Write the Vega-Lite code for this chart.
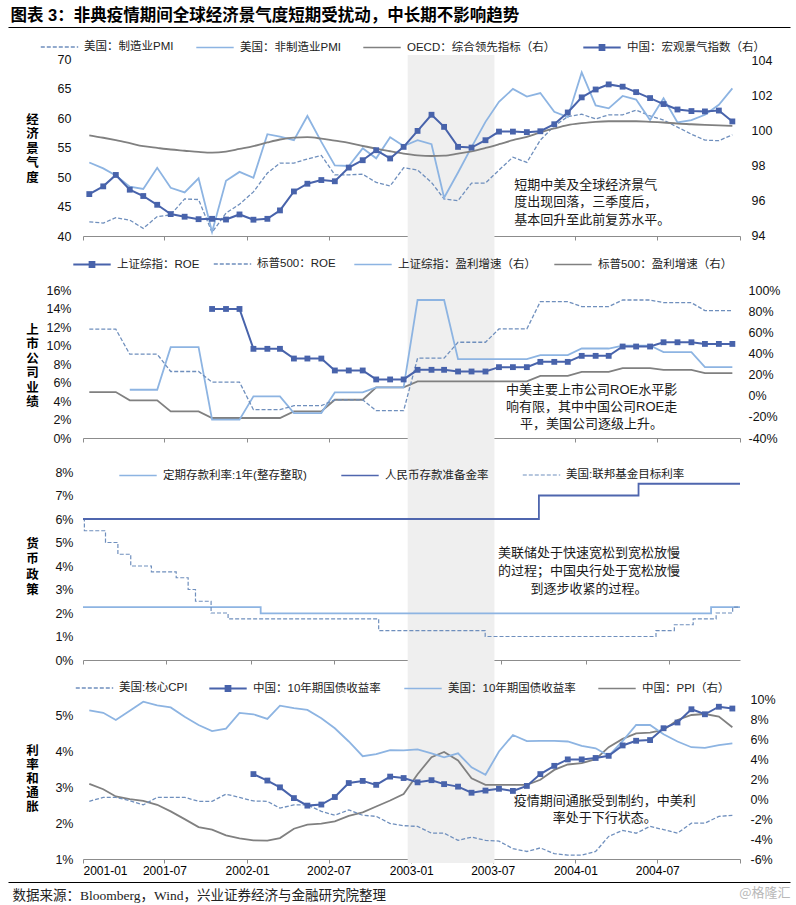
{
  "$schema": "https://vega.github.io/schema/vega-lite/v6.json",
  "width": 657,
  "height": 905,
  "autosize": "none",
  "padding": {"left": 83, "right": 56, "top": 0, "bottom": 0},
  "background": "white",
  "config": {
    "view": {"stroke": null},
    "font": "Liberation Sans, Noto Sans CJK SC",
    "axis": {"labelFont": "Liberation Sans, Noto Sans CJK SC", "labelFontSize": 12.5, "labelColor": "#111", "domainColor": "#8c8c8c", "tickColor": "#8c8c8c", "grid": false},
    "legend": {"symbolSize": 1400, "symbolStrokeWidth": 1.6, "labelFont": "Liberation Sans, Noto Sans CJK SC", "labelFontSize": 11.5, "labelColor": "#222", "labelOffset": 5, "padding": 0, "labelLimit": 400}
  },
  "datasets": {
    "p1": [
      {"d":"2001-01-15","pm":42.4,"pn":52.5,"oe":99.71,"cn":96.36},
      {"d":"2001-02-15","pm":42.2,"pn":51.5,"oe":99.57,"cn":96.8},
      {"d":"2001-03-15","pm":43.1,"pn":50.3,"oe":99.43,"cn":97.45},
      {"d":"2001-04-15","pm":42.7,"pn":48.4,"oe":99.26,"cn":96.61},
      {"d":"2001-05-15","pm":41.3,"pn":48.0,"oe":99.09,"cn":96.25},
      {"d":"2001-06-15","pm":43.3,"pn":51.6,"oe":98.99,"cn":95.75},
      {"d":"2001-07-15","pm":43.6,"pn":48.2,"oe":98.9,"cn":95.22},
      {"d":"2001-08-15","pm":46.3,"pn":47.4,"oe":98.83,"cn":95.07},
      {"d":"2001-09-15","pm":46.2,"pn":49.8,"oe":98.76,"cn":94.93},
      {"d":"2001-10-15","pm":40.6,"pn":40.7,"oe":98.72,"cn":94.95},
      {"d":"2001-11-15","pm":43.9,"pn":49.4,"oe":98.78,"cn":94.91},
      {"d":"2001-12-15","pm":45.4,"pn":50.9,"oe":98.93,"cn":95.2},
      {"d":"2002-01-15","pm":47.5,"pn":49.9,"oe":99.09,"cn":94.9},
      {"d":"2002-02-15","pm":50.7,"pn":57.3,"oe":99.3,"cn":94.95},
      {"d":"2002-03-15","pm":52.4,"pn":56.9,"oe":99.47,"cn":95.43},
      {"d":"2002-04-15","pm":52.4,"pn":56.3,"oe":99.58,"cn":96.51},
      {"d":"2002-05-15","pm":53.1,"pn":60.4,"oe":99.6,"cn":96.95},
      {"d":"2002-06-15","pm":53.7,"pn":56.0,"oe":99.52,"cn":97.16},
      {"d":"2002-07-15","pm":50.4,"pn":52.0,"oe":99.4,"cn":97.09},
      {"d":"2002-08-15","pm":50.4,"pn":51.9,"oe":99.28,"cn":97.87},
      {"d":"2002-09-15","pm":50.5,"pn":54.9,"oe":99.1,"cn":98.29},
      {"d":"2002-10-15","pm":49.1,"pn":53.2,"oe":98.95,"cn":98.86},
      {"d":"2002-11-15","pm":48.5,"pn":56.8,"oe":98.8,"cn":98.39},
      {"d":"2002-12-15","pm":51.6,"pn":55.3,"oe":98.67,"cn":99.05},
      {"d":"2003-01-15","pm":51.2,"pn":56.3,"oe":98.57,"cn":99.96},
      {"d":"2003-02-15","pm":49.1,"pn":55.6,"oe":98.53,"cn":100.88},
      {"d":"2003-03-15","pm":46.3,"pn":46.5,"oe":98.55,"cn":100.19},
      {"d":"2003-04-15","pm":46.0,"pn":50.8,"oe":98.67,"cn":99.05},
      {"d":"2003-05-15","pm":49.0,"pn":55.1,"oe":98.8,"cn":99.01},
      {"d":"2003-06-15","pm":49.0,"pn":59.4,"oe":98.99,"cn":99.43},
      {"d":"2003-07-15","pm":51.2,"pn":62.8,"oe":99.2,"cn":99.92},
      {"d":"2003-08-15","pm":53.4,"pn":65.0,"oe":99.43,"cn":99.92},
      {"d":"2003-09-15","pm":52.5,"pn":63.7,"oe":99.62,"cn":99.89},
      {"d":"2003-10-15","pm":56.3,"pn":64.3,"oe":99.87,"cn":99.94},
      {"d":"2003-11-15","pm":58.7,"pn":61.1,"oe":100.1,"cn":100.34},
      {"d":"2003-12-15","pm":60.3,"pn":60.2,"oe":100.29,"cn":101.01},
      {"d":"2004-01-15","pm":60.7,"pn":67.8,"oe":100.4,"cn":101.87},
      {"d":"2004-02-15","pm":59.9,"pn":62.2,"oe":100.48,"cn":102.32},
      {"d":"2004-03-15","pm":60.6,"pn":61.7,"oe":100.51,"cn":102.61},
      {"d":"2004-04-15","pm":60.6,"pn":63.8,"oe":100.51,"cn":102.48},
      {"d":"2004-05-15","pm":61.4,"pn":63.2,"oe":100.51,"cn":102.17},
      {"d":"2004-06-15","pm":60.4,"pn":59.7,"oe":100.48,"cn":101.83},
      {"d":"2004-07-15","pm":59.7,"pn":63.4,"oe":100.44,"cn":101.49},
      {"d":"2004-08-15","pm":58.5,"pn":59.3,"oe":100.38,"cn":101.18},
      {"d":"2004-09-15","pm":57.3,"pn":59.7,"oe":100.34,"cn":101.09},
      {"d":"2004-10-15","pm":56.3,"pn":60.6,"oe":100.3,"cn":101.07},
      {"d":"2004-11-15","pm":56.2,"pn":62.3,"oe":100.27,"cn":101.12},
      {"d":"2004-12-15","pm":57.2,"pn":65.1,"oe":100.25,"cn":100.5}
    ],
    "p2": [
      {"d":"2001-01-15","r1":null,"r2":11.76,"g1":null,"g2":3.43},
      {"d":"2001-02-15","r1":null,"r2":11.76,"g1":null,"g2":3.43},
      {"d":"2001-03-15","r1":null,"r2":11.76,"g1":null,"g2":3.43},
      {"d":"2001-04-15","r1":null,"r2":9.06,"g1":5.63,"g2":-4.43},
      {"d":"2001-05-15","r1":null,"r2":9.06,"g1":5.63,"g2":-4.43},
      {"d":"2001-06-15","r1":null,"r2":9.06,"g1":5.63,"g2":-4.43},
      {"d":"2001-07-15","r1":null,"r2":7.19,"g1":45.9,"g2":-14.8},
      {"d":"2001-08-15","r1":null,"r2":7.19,"g1":45.9,"g2":-14.8},
      {"d":"2001-09-15","r1":null,"r2":7.19,"g1":45.9,"g2":-14.8},
      {"d":"2001-10-15","r1":13.95,"r2":6.04,"g1":-22.7,"g2":-21.1},
      {"d":"2001-11-15","r1":13.95,"r2":6.04,"g1":-22.7,"g2":-21.1},
      {"d":"2001-12-15","r1":13.95,"r2":6.04,"g1":-22.7,"g2":-21.1},
      {"d":"2002-01-15","r1":9.64,"r2":3.06,"g1":-0.66,"g2":-21.1},
      {"d":"2002-02-15","r1":9.64,"r2":3.06,"g1":-0.66,"g2":-21.1},
      {"d":"2002-03-15","r1":9.64,"r2":3.06,"g1":-0.66,"g2":-21.1},
      {"d":"2002-04-15","r1":8.59,"r2":3.49,"g1":-16.4,"g2":-14.8},
      {"d":"2002-05-15","r1":8.59,"r2":3.49,"g1":-16.4,"g2":-14.8},
      {"d":"2002-06-15","r1":8.59,"r2":3.49,"g1":-16.4,"g2":-14.8},
      {"d":"2002-07-15","r1":7.3,"r2":4.13,"g1":3.11,"g2":-3.8},
      {"d":"2002-08-15","r1":7.3,"r2":4.13,"g1":3.11,"g2":-3.8},
      {"d":"2002-09-15","r1":7.3,"r2":4.13,"g1":3.11,"g2":-3.8},
      {"d":"2002-10-15","r1":6.33,"r2":2.95,"g1":7.83,"g2":7.83},
      {"d":"2002-11-15","r1":6.33,"r2":2.95,"g1":7.83,"g2":7.83},
      {"d":"2002-12-15","r1":6.33,"r2":2.95,"g1":7.83,"g2":7.83},
      {"d":"2003-01-15","r1":7.37,"r2":8.63,"g1":90.56,"g2":13.5},
      {"d":"2003-02-15","r1":7.37,"r2":8.63,"g1":90.56,"g2":13.5},
      {"d":"2003-03-15","r1":7.37,"r2":8.63,"g1":90.56,"g2":13.5},
      {"d":"2003-04-15","r1":7.19,"r2":10.35,"g1":34.6,"g2":13.5},
      {"d":"2003-05-15","r1":7.19,"r2":10.35,"g1":34.6,"g2":13.5},
      {"d":"2003-06-15","r1":7.19,"r2":10.35,"g1":34.6,"g2":13.5},
      {"d":"2003-07-15","r1":7.66,"r2":11.79,"g1":34.6,"g2":13.5},
      {"d":"2003-08-15","r1":7.66,"r2":11.79,"g1":34.6,"g2":13.5},
      {"d":"2003-09-15","r1":7.66,"r2":11.79,"g1":34.6,"g2":13.5},
      {"d":"2003-10-15","r1":8.23,"r2":14.74,"g1":38.35,"g2":18.84},
      {"d":"2003-11-15","r1":8.23,"r2":14.74,"g1":38.35,"g2":18.84},
      {"d":"2003-12-15","r1":8.23,"r2":14.74,"g1":38.35,"g2":18.84},
      {"d":"2004-01-15","r1":8.88,"r2":14.2,"g1":44.64,"g2":22.6},
      {"d":"2004-02-15","r1":8.88,"r2":14.2,"g1":44.64,"g2":22.6},
      {"d":"2004-03-15","r1":8.88,"r2":14.2,"g1":44.64,"g2":22.6},
      {"d":"2004-04-15","r1":9.89,"r2":14.92,"g1":47.47,"g2":26.1},
      {"d":"2004-05-15","r1":9.89,"r2":14.92,"g1":47.47,"g2":26.1},
      {"d":"2004-06-15","r1":9.89,"r2":14.92,"g1":47.47,"g2":26.1},
      {"d":"2004-07-15","r1":10.35,"r2":14.63,"g1":41.18,"g2":24.5},
      {"d":"2004-08-15","r1":10.35,"r2":14.63,"g1":41.18,"g2":24.5},
      {"d":"2004-09-15","r1":10.35,"r2":14.63,"g1":41.18,"g2":24.5},
      {"d":"2004-10-15","r1":10.17,"r2":13.77,"g1":27.0,"g2":21.4},
      {"d":"2004-11-15","r1":10.17,"r2":13.77,"g1":27.0,"g2":21.4},
      {"d":"2004-12-15","r1":10.17,"r2":13.77,"g1":27.0,"g2":21.4}
    ],
    "dep": [
      {"d":"2001-01-01","v":2.25},{"d":"2002-01-23","v":1.98},{"d":"2004-09-30","v":2.25},{"d":"2004-12-02","v":2.25}
    ],
    "rrr": [
      {"d":"2001-01-01","v":6.0},{"d":"2003-09-21","v":7.0},{"d":"2004-04-25","v":7.5},{"d":"2004-12-02","v":7.5}
    ],
    "fed": [
      {"d":"2001-01-01","v":6.0},{"d":"2001-01-04","v":5.5},{"d":"2001-02-19","v":5.0},{"d":"2001-03-18","v":4.5},
      {"d":"2001-04-15","v":4.0},{"d":"2001-05-30","v":3.75},{"d":"2001-07-23","v":3.5},{"d":"2001-08-18","v":3.0},
      {"d":"2001-09-03","v":2.5},{"d":"2001-10-07","v":2.0},{"d":"2001-11-13","v":1.75},{"d":"2002-10-07","v":1.25},
      {"d":"2003-05-27","v":1.0},{"d":"2004-06-02","v":1.25},{"d":"2004-07-12","v":1.5},{"d":"2004-08-22","v":1.75},
      {"d":"2004-10-11","v":2.0},{"d":"2004-11-16","v":2.25},{"d":"2004-12-02","v":2.25}
    ],
    "p4": [
      {"d":"2001-01-15","cpi":2.61,"cn":null,"us":5.15,"ppi":1.52},
      {"d":"2001-02-15","cpi":2.72,"cn":null,"us":5.08,"ppi":0.98},
      {"d":"2001-03-15","cpi":2.72,"cn":null,"us":4.88,"ppi":0.25},
      {"d":"2001-04-15","cpi":2.63,"cn":null,"us":5.14,"ppi":-0.01},
      {"d":"2001-05-15","cpi":2.51,"cn":null,"us":5.39,"ppi":-0.18},
      {"d":"2001-06-15","cpi":2.72,"cn":null,"us":5.29,"ppi":-0.58},
      {"d":"2001-07-15","cpi":2.72,"cn":null,"us":5.23,"ppi":-1.24},
      {"d":"2001-08-15","cpi":2.72,"cn":null,"us":4.97,"ppi":-2.01},
      {"d":"2001-09-15","cpi":2.61,"cn":null,"us":4.74,"ppi":-2.81},
      {"d":"2001-10-15","cpi":2.61,"cn":null,"us":4.57,"ppi":-3.07},
      {"d":"2001-11-15","cpi":2.81,"cn":null,"us":4.64,"ppi":-3.64},
      {"d":"2001-12-15","cpi":2.72,"cn":null,"us":5.08,"ppi":-3.94},
      {"d":"2002-01-15","cpi":2.62,"cn":3.37,"us":5.04,"ppi":-4.14},
      {"d":"2002-02-15","cpi":2.61,"cn":3.19,"us":4.91,"ppi":-4.17},
      {"d":"2002-03-15","cpi":2.42,"cn":3.0,"us":5.28,"ppi":-3.91},
      {"d":"2002-04-15","cpi":2.51,"cn":2.7,"us":5.21,"ppi":-2.97},
      {"d":"2002-05-15","cpi":2.51,"cn":2.49,"us":5.16,"ppi":-2.57},
      {"d":"2002-06-15","cpi":2.33,"cn":2.52,"us":4.93,"ppi":-2.47},
      {"d":"2002-07-15","cpi":2.22,"cn":2.73,"us":4.65,"ppi":-2.24},
      {"d":"2002-08-15","cpi":2.37,"cn":3.12,"us":4.28,"ppi":-1.68},
      {"d":"2002-09-15","cpi":2.22,"cn":3.18,"us":3.87,"ppi":-1.34},
      {"d":"2002-10-15","cpi":2.19,"cn":3.07,"us":3.93,"ppi":-0.75},
      {"d":"2002-11-15","cpi":1.99,"cn":3.3,"us":4.04,"ppi":-0.15},
      {"d":"2002-12-15","cpi":1.93,"cn":3.26,"us":4.03,"ppi":0.49},
      {"d":"2003-01-15","cpi":1.91,"cn":3.14,"us":4.06,"ppi":2.48},
      {"d":"2003-02-15","cpi":1.72,"cn":3.2,"us":3.95,"ppi":4.18},
      {"d":"2003-03-15","cpi":1.72,"cn":3.09,"us":3.84,"ppi":4.71},
      {"d":"2003-04-15","cpi":1.52,"cn":3.02,"us":3.95,"ppi":3.85},
      {"d":"2003-05-15","cpi":1.61,"cn":2.85,"us":3.56,"ppi":2.08},
      {"d":"2003-06-15","cpi":1.52,"cn":2.91,"us":3.35,"ppi":1.42},
      {"d":"2003-07-15","cpi":1.5,"cn":2.96,"us":4.0,"ppi":1.42},
      {"d":"2003-08-15","cpi":1.29,"cn":2.9,"us":4.46,"ppi":1.42},
      {"d":"2003-09-15","cpi":1.21,"cn":3.04,"us":4.29,"ppi":1.42},
      {"d":"2003-10-15","cpi":1.31,"cn":3.37,"us":4.3,"ppi":1.92},
      {"d":"2003-11-15","cpi":1.15,"cn":3.6,"us":4.3,"ppi":2.91},
      {"d":"2003-12-15","cpi":1.11,"cn":3.78,"us":4.28,"ppi":3.45},
      {"d":"2004-01-15","cpi":1.11,"cn":3.78,"us":4.16,"ppi":3.58},
      {"d":"2004-02-15","cpi":1.21,"cn":3.82,"us":4.09,"ppi":3.98},
      {"d":"2004-03-15","cpi":1.63,"cn":3.88,"us":3.88,"ppi":5.18},
      {"d":"2004-04-15","cpi":1.8,"cn":4.17,"us":4.29,"ppi":6.01},
      {"d":"2004-05-15","cpi":1.72,"cn":4.3,"us":4.74,"ppi":6.57},
      {"d":"2004-06-15","cpi":1.91,"cn":4.32,"us":4.74,"ppi":6.64},
      {"d":"2004-07-15","cpi":1.82,"cn":4.65,"us":4.48,"ppi":6.91},
      {"d":"2004-08-15","cpi":1.72,"cn":4.81,"us":4.28,"ppi":7.9},
      {"d":"2004-09-15","cpi":2.0,"cn":5.18,"us":4.12,"ppi":8.4},
      {"d":"2004-10-15","cpi":2.0,"cn":5.04,"us":4.1,"ppi":8.5},
      {"d":"2004-11-15","cpi":2.19,"cn":5.25,"us":4.18,"ppi":8.24},
      {"d":"2004-12-15","cpi":2.22,"cn":5.2,"us":4.23,"ppi":7.17}
    ]
  },
  "layer": [
    {
      "data": {"values": [{}]},
      "mark": {"type": "point", "opacity": 0},
      "encoding": {
        "x": {"datum": 0, "type": "quantitative", "scale": {"domain": [0, 1], "range": [-75, 707]},
          "axis": {"orient": "top", "offset": -27, "domain": true, "domainColor": "#000", "domainWidth": 1.2, "ticks": false, "labels": false, "grid": false,
            "title": "图表 3：非典疫情期间全球经济景气度短期受扰动，中长期不影响趋势", "titleX": -73, "titleY": -12, "titleAlign": "left", "titleBaseline": "middle",
            "titleFont": "Liberation Sans, Noto Sans CJK SC", "titleFontSize": 16.5, "titleFontWeight": "bold", "titleColor": "#000"}}
      }
    },
    {
      "data": {"values": [{}]},
      "mark": {"type": "point", "opacity": 0},
      "encoding": {
        "x": {"datum": 0, "type": "quantitative", "scale": {"domain": [0, 1], "range": [-75, 707]},
          "axis": {"orient": "bottom", "offset": -23, "domain": true, "domainColor": "#000", "domainWidth": 1.2, "ticks": false, "labels": false, "grid": false,
            "title": "数据来源：Bloomberg，Wind，兴业证券经济与金融研究院整理", "titleX": -71, "titleY": 13, "titleAlign": "left", "titleBaseline": "middle",
            "titleFont": "Liberation Serif, Noto Sans CJK SC", "titleFontSize": 13.5, "titleFontWeight": "normal", "titleColor": "#222"}}
      }
    },
    {
      "data": {"values": [{"a": "2002-12-24", "b": "2003-07-05"}]},
      "mark": {"type": "rect", "color": "#efefef"},
      "encoding": {
        "x": {"field": "a", "type": "temporal", "scale": {"type": "utc", "domain": [{"year": 2001, "month": 1, "date": 1, "utc": true}, {"year": 2005, "month": 1, "date": 1, "utc": true}]}, "axis": null},
        "x2": {"field": "b"},
        "y": {"datum": 0, "type": "quantitative", "scale": {"domain": [0, 1], "range": [863, 55]}, "axis": null},
        "y2": {"datum": 1}
      }
    },
    {
      "data": {"name": "p1"},
      "mark": {"type": "line", "strokeWidth": 1.3, "strokeDash": [4, 2]},
      "encoding": {
        "x": {"field": "d", "type": "temporal", "scale": {"type": "utc", "domain": [{"year": 2001, "month": 1, "date": 1, "utc": true}, {"year": 2005, "month": 1, "date": 1, "utc": true}]},
          "axis": {"orient": "bottom", "offset": -669, "labels": false, "ticks": true, "tickSize": 4, "domain": true, "title": null,
            "values": [{"year": 2001, "month": 1, "date": 1, "utc": true}, {"year": 2001, "month": 7, "date": 1, "utc": true}, {"year": 2002, "month": 1, "date": 1, "utc": true}, {"year": 2002, "month": 7, "date": 1, "utc": true}, {"year": 2003, "month": 1, "date": 1, "utc": true}, {"year": 2003, "month": 7, "date": 1, "utc": true}, {"year": 2004, "month": 1, "date": 1, "utc": true}, {"year": 2004, "month": 7, "date": 1, "utc": true}, {"year": 2005, "month": 1, "date": 1, "utc": true}]}},
        "y": {"field": "pm", "type": "quantitative", "scale": {"domain": [40, 70], "range": [236, 59.5], "zero": false, "nice": false},
          "axis": {"orient": "left", "values": [40, 45, 50, 55, 60, 65, 70], "domain": false, "ticks": false, "labelPadding": 12,
            "title": ["经", "济", "景", "气", "度"], "titleAngle": 0, "titleX": -51, "titleY": 119, "titleAlign": "center", "titleBaseline": "middle",
            "titleFont": "Noto Sans CJK SC", "titleFontSize": 12.5, "titleFontWeight": "bold", "titleLineHeight": 14.5, "titleColor": "#000"}},
        "color": {"datum": "美国：制造业PMI", "type": "nominal", "scale": {"range": ["#6f8fbd"]},
          "legend": {"orient": "none", "legendX": -43, "legendY": 27.5, "title": null, "symbolType": "stroke", "symbolDash": [4, 2], "symbolStrokeWidth": 1.3}}
      }
    },
    {
      "data": {"name": "p1"},
      "mark": {"type": "line", "strokeWidth": 1.8},
      "encoding": {
        "x": {"field": "d", "type": "temporal", "scale": {"type": "utc", "domain": [{"year": 2001, "month": 1, "date": 1, "utc": true}, {"year": 2005, "month": 1, "date": 1, "utc": true}]}, "axis": null},
        "y": {"field": "pn", "type": "quantitative", "scale": {"domain": [40, 70], "range": [236, 59.5], "zero": false, "nice": false}, "axis": null},
        "color": {"datum": "美国：非制造业PMI", "type": "nominal", "scale": {"range": ["#8db4e2"]},
          "legend": {"orient": "none", "legendX": 112, "legendY": 27.5, "title": null, "symbolType": "stroke"}}
      }
    },
    {
      "data": {"name": "p1"},
      "mark": {"type": "line", "strokeWidth": 1.8, "interpolate": "monotone"},
      "encoding": {
        "x": {"field": "d", "type": "temporal", "scale": {"type": "utc", "domain": [{"year": 2001, "month": 1, "date": 1, "utc": true}, {"year": 2005, "month": 1, "date": 1, "utc": true}]}, "axis": null},
        "y": {"field": "oe", "type": "quantitative", "scale": {"domain": [94, 104], "range": [235.5, 60], "zero": false, "nice": false},
          "axis": {"orient": "right", "values": [94, 96, 98, 100, 102, 104], "domain": false, "ticks": false, "labelPadding": 11, "title": null}},
        "color": {"datum": "OECD：综合领先指标（右）", "type": "nominal", "scale": {"range": ["#808080"]},
          "legend": {"orient": "none", "legendX": 279, "legendY": 27.5, "title": null, "symbolType": "stroke"}}
      }
    },
    {
      "data": {"name": "p1"},
      "mark": {"type": "line", "strokeWidth": 2, "point": {"shape": "square", "size": 34, "filled": true}},
      "encoding": {
        "x": {"field": "d", "type": "temporal", "scale": {"type": "utc", "domain": [{"year": 2001, "month": 1, "date": 1, "utc": true}, {"year": 2005, "month": 1, "date": 1, "utc": true}]}, "axis": null},
        "y": {"field": "cn", "type": "quantitative", "scale": {"domain": [94, 104], "range": [235.5, 60], "zero": false, "nice": false}, "axis": null},
        "color": {"datum": "中国：宏观景气指数（右）", "type": "nominal", "scale": {"range": ["#4863ab"]},
          "legend": {"orient": "none", "legendX": 499, "legendY": 27.5, "title": null, "symbolStrokeWidth": 2,
            "symbolType": "M-1,0H1M-0.18,-0.13H0.18M-0.18,-0.045H0.18M-0.18,0.045H0.18M-0.18,0.13H0.18"}}
      }
    },
    {
      "data": {"values": [{}]},
      "mark": {"type": "text", "align": "left", "baseline": "top", "lineBreak": "\n", "fontSize": 13, "lineHeight": 17.5, "font": "Noto Sans CJK SC", "color": "#1a1a1a"},
      "encoding": {
        "x": {"datum": {"year": 2003, "month": 8, "date": 18, "utc": true}, "type": "temporal", "scale": {"type": "utc", "domain": [{"year": 2001, "month": 1, "date": 1, "utc": true}, {"year": 2005, "month": 1, "date": 1, "utc": true}]}, "axis": null},
        "y": {"datum": 49.77, "type": "quantitative", "scale": {"domain": [40, 70], "range": [236, 59.5], "zero": false, "nice": false}, "axis": null},
        "text": {"value": "短期中美及全球经济景气\n度出现回落，三季度后，\n基本回升至此前复苏水平。"}
      }
    },
    {
      "data": {"name": "p2"},
      "mark": {"type": "line", "strokeWidth": 1.8},
      "encoding": {
        "x": {"field": "d", "type": "temporal", "scale": {"type": "utc", "domain": [{"year": 2001, "month": 1, "date": 1, "utc": true}, {"year": 2005, "month": 1, "date": 1, "utc": true}]},
          "axis": {"orient": "bottom", "offset": -467, "labels": false, "ticks": true, "tickSize": 4, "domain": true, "title": null,
            "values": [{"year": 2001, "month": 1, "date": 1, "utc": true}, {"year": 2001, "month": 7, "date": 1, "utc": true}, {"year": 2002, "month": 1, "date": 1, "utc": true}, {"year": 2002, "month": 7, "date": 1, "utc": true}, {"year": 2003, "month": 1, "date": 1, "utc": true}, {"year": 2003, "month": 7, "date": 1, "utc": true}, {"year": 2004, "month": 1, "date": 1, "utc": true}, {"year": 2004, "month": 7, "date": 1, "utc": true}, {"year": 2005, "month": 1, "date": 1, "utc": true}]}},
        "y": {"field": "g2", "type": "quantitative", "scale": {"domain": [-40, 100], "range": [438, 290], "zero": false, "nice": false},
          "axis": {"orient": "right", "values": [-40, -20, 0, 20, 40, 60, 80, 100], "labelExpr": "datum.value + '%'", "domain": false, "ticks": false, "labelPadding": 8, "title": null}},
        "color": {"datum": "标普500：盈利增速（右）", "type": "nominal", "scale": {"range": ["#808080"]},
          "legend": {"orient": "none", "legendX": 470, "legendY": 244.5, "title": null, "symbolType": "stroke"}}
      }
    },
    {
      "data": {"name": "p2"},
      "mark": {"type": "line", "strokeWidth": 1.8},
      "encoding": {
        "x": {"field": "d", "type": "temporal", "scale": {"type": "utc", "domain": [{"year": 2001, "month": 1, "date": 1, "utc": true}, {"year": 2005, "month": 1, "date": 1, "utc": true}]}, "axis": null},
        "y": {"field": "g1", "type": "quantitative", "scale": {"domain": [-40, 100], "range": [438, 290], "zero": false, "nice": false}, "axis": null},
        "color": {"datum": "上证综指：盈利增速（右）", "type": "nominal", "scale": {"range": ["#8db4e2"]},
          "legend": {"orient": "none", "legendX": 270, "legendY": 244.5, "title": null, "symbolType": "stroke"}}
      }
    },
    {
      "data": {"name": "p2"},
      "mark": {"type": "line", "strokeWidth": 1.3, "strokeDash": [4, 2]},
      "encoding": {
        "x": {"field": "d", "type": "temporal", "scale": {"type": "utc", "domain": [{"year": 2001, "month": 1, "date": 1, "utc": true}, {"year": 2005, "month": 1, "date": 1, "utc": true}]}, "axis": null},
        "y": {"field": "r2", "type": "quantitative", "scale": {"domain": [0, 16], "range": [438, 290], "zero": false, "nice": false},
          "axis": {"orient": "left", "values": [0, 2, 4, 6, 8, 10, 12, 14, 16], "labelExpr": "datum.value + '%'", "domain": false, "ticks": false, "labelPadding": 12,
            "title": ["上", "市", "公", "司", "业", "绩"], "titleAngle": 0, "titleX": -51, "titleY": 329, "titleAlign": "center", "titleBaseline": "middle",
            "titleFont": "Noto Sans CJK SC", "titleFontSize": 12.5, "titleFontWeight": "bold", "titleLineHeight": 14.5, "titleColor": "#000"}},
        "color": {"datum": "标普500：ROE", "type": "nominal", "scale": {"range": ["#6f8fbd"]},
          "legend": {"orient": "none", "legendX": 130, "legendY": 244.5, "title": null, "symbolType": "stroke", "symbolDash": [4, 2], "symbolStrokeWidth": 1.3}}
      }
    },
    {
      "data": {"name": "p2"},
      "mark": {"type": "line", "strokeWidth": 2, "point": {"shape": "square", "size": 34, "filled": true}},
      "encoding": {
        "x": {"field": "d", "type": "temporal", "scale": {"type": "utc", "domain": [{"year": 2001, "month": 1, "date": 1, "utc": true}, {"year": 2005, "month": 1, "date": 1, "utc": true}]}, "axis": null},
        "y": {"field": "r1", "type": "quantitative", "scale": {"domain": [0, 16], "range": [438, 290], "zero": false, "nice": false}, "axis": null},
        "color": {"datum": "上证综指：ROE", "type": "nominal", "scale": {"range": ["#4863ab"]},
          "legend": {"orient": "none", "legendX": -11, "legendY": 244.5, "title": null, "symbolStrokeWidth": 2,
            "symbolType": "M-1,0H1M-0.18,-0.13H0.18M-0.18,-0.045H0.18M-0.18,0.045H0.18M-0.18,0.13H0.18"}}
      }
    },
    {
      "data": {"values": [{}]},
      "mark": {"type": "text", "align": "center", "baseline": "top", "lineBreak": "\n", "fontSize": 13, "lineHeight": 17, "font": "Liberation Sans, Noto Sans CJK SC", "color": "#1a1a1a"},
      "encoding": {
        "x": {"datum": {"year": 2004, "month": 2, "date": 6, "utc": true}, "type": "temporal", "scale": {"type": "utc", "domain": [{"year": 2001, "month": 1, "date": 1, "utc": true}, {"year": 2005, "month": 1, "date": 1, "utc": true}]}, "axis": null},
        "y": {"datum": 5.89, "type": "quantitative", "scale": {"domain": [0, 16], "range": [438, 290], "zero": false, "nice": false}, "axis": null},
        "text": {"value": "中美主要上市公司ROE水平影\n响有限，其中中国公司ROE走\n平，美国公司逐级上升。"}
      }
    },
    {
      "data": {"name": "dep"},
      "mark": {"type": "line", "strokeWidth": 1.8, "interpolate": "step-after"},
      "encoding": {
        "x": {"field": "d", "type": "temporal", "scale": {"type": "utc", "domain": [{"year": 2001, "month": 1, "date": 1, "utc": true}, {"year": 2004, "month": 12, "date": 2, "utc": true}]},
          "axis": {"orient": "bottom", "offset": -245, "labels": false, "ticks": true, "tickSize": 4, "domain": true, "title": null,
            "values": [{"year": 2001, "month": 1, "date": 1, "utc": true}, {"year": 2001, "month": 7, "date": 1, "utc": true}, {"year": 2002, "month": 1, "date": 1, "utc": true}, {"year": 2002, "month": 7, "date": 1, "utc": true}, {"year": 2003, "month": 1, "date": 1, "utc": true}, {"year": 2003, "month": 7, "date": 1, "utc": true}, {"year": 2004, "month": 1, "date": 1, "utc": true}, {"year": 2004, "month": 7, "date": 1, "utc": true}]}},
        "y": {"field": "v", "type": "quantitative", "scale": {"domain": [0, 8], "range": [660, 472], "zero": false, "nice": false},
          "axis": {"orient": "left", "values": [0, 1, 2, 3, 4, 5, 6, 7, 8], "labelExpr": "datum.value + '%'", "domain": false, "ticks": false, "labelPadding": 10,
            "title": ["货", "币", "政", "策"], "titleAngle": 0, "titleX": -51, "titleY": 543, "titleAlign": "center", "titleBaseline": "middle",
            "titleFont": "Noto Sans CJK SC", "titleFontSize": 12.5, "titleFontWeight": "bold", "titleLineHeight": 15.6, "titleColor": "#000"}},
        "color": {"datum": "定期存款利率:1年(整存整取)", "type": "nominal", "scale": {"range": ["#8db4e2"]},
          "legend": {"orient": "none", "legendX": 35, "legendY": 455.5, "title": null, "symbolType": "stroke"}}
      }
    },
    {
      "data": {"name": "fed"},
      "mark": {"type": "line", "strokeWidth": 1.2, "strokeDash": [4, 2], "interpolate": "step-after"},
      "encoding": {
        "x": {"field": "d", "type": "temporal", "scale": {"type": "utc", "domain": [{"year": 2001, "month": 1, "date": 1, "utc": true}, {"year": 2004, "month": 12, "date": 2, "utc": true}]}, "axis": null},
        "y": {"field": "v", "type": "quantitative", "scale": {"domain": [0, 8], "range": [660, 472], "zero": false, "nice": false}, "axis": null},
        "color": {"datum": "美国:联邦基金目标利率", "type": "nominal", "scale": {"range": ["#6f8fbd"]},
          "legend": {"orient": "none", "legendX": 439, "legendY": 455.5, "title": null, "symbolType": "stroke", "symbolDash": [4, 2], "symbolStrokeWidth": 1.2}}
      }
    },
    {
      "data": {"name": "rrr"},
      "mark": {"type": "line", "strokeWidth": 1.8, "interpolate": "step-after"},
      "encoding": {
        "x": {"field": "d", "type": "temporal", "scale": {"type": "utc", "domain": [{"year": 2001, "month": 1, "date": 1, "utc": true}, {"year": 2004, "month": 12, "date": 2, "utc": true}]}, "axis": null},
        "y": {"field": "v", "type": "quantitative", "scale": {"domain": [0, 8], "range": [660, 472], "zero": false, "nice": false}, "axis": null},
        "color": {"datum": "人民币存款准备金率", "type": "nominal", "scale": {"range": ["#4f66ae"]},
          "legend": {"orient": "none", "legendX": 257, "legendY": 455.5, "title": null, "symbolType": "stroke"}}
      }
    },
    {
      "data": {"values": [{}]},
      "mark": {"type": "text", "align": "center", "baseline": "top", "lineBreak": "\n", "fontSize": 13, "lineHeight": 18, "font": "Noto Sans CJK SC", "color": "#1a1a1a"},
      "encoding": {
        "x": {"datum": {"year": 2004, "month": 1, "date": 8, "utc": true}, "type": "temporal", "scale": {"type": "utc", "domain": [{"year": 2001, "month": 1, "date": 1, "utc": true}, {"year": 2004, "month": 12, "date": 2, "utc": true}]}, "axis": null},
        "y": {"datum": 4.79, "type": "quantitative", "scale": {"domain": [0, 8], "range": [660, 472], "zero": false, "nice": false}, "axis": null},
        "text": {"value": "美联储处于快速宽松到宽松放慢\n的过程；中国央行处于宽松放慢\n到逐步收紧的过程。"}
      }
    },
    {
      "data": {"name": "p4"},
      "mark": {"type": "line", "strokeWidth": 1.8},
      "encoding": {
        "x": {"field": "d", "type": "temporal", "scale": {"type": "utc", "domain": [{"year": 2001, "month": 1, "date": 1, "utc": true}, {"year": 2005, "month": 1, "date": 1, "utc": true}]},
          "axis": {"orient": "bottom", "offset": -46, "labels": true, "ticks": true, "tickSize": 4, "domain": true, "labelPadding": 2, "labelFontSize": 12, "labelColor": "#000",
            "labelExpr": "utcyear(datum.value) >= 2005 ? '' : utcFormat(datum.value, '%Y-%m')",
            "values": [{"year": 2001, "month": 1, "date": 1, "utc": true}, {"year": 2001, "month": 7, "date": 1, "utc": true}, {"year": 2002, "month": 1, "date": 1, "utc": true}, {"year": 2002, "month": 7, "date": 1, "utc": true}, {"year": 2003, "month": 1, "date": 1, "utc": true}, {"year": 2003, "month": 7, "date": 1, "utc": true}, {"year": 2004, "month": 1, "date": 1, "utc": true}, {"year": 2004, "month": 7, "date": 1, "utc": true}, {"year": 2005, "month": 1, "date": 1, "utc": true}],
            "title": "@格隆汇", "titleX": 707, "titleY": 33, "titleAlign": "right", "titleBaseline": "middle", "titleFont": "Noto Sans CJK SC", "titleFontSize": 13, "titleFontWeight": "normal", "titleColor": "#b8b8b8"}},
        "y": {"field": "ppi", "type": "quantitative", "scale": {"domain": [-6, 10], "range": [859, 699], "zero": false, "nice": false},
          "axis": {"orient": "right", "values": [-6, -4, -2, 0, 2, 4, 6, 8, 10], "labelExpr": "datum.value + '%'", "domain": false, "ticks": false, "labelPadding": 10, "title": null}},
        "color": {"datum": "中国：PPI（右）", "type": "nominal", "scale": {"range": ["#808080"]},
          "legend": {"orient": "none", "legendX": 514, "legendY": 668.5, "title": null, "symbolType": "stroke"}}
      }
    },
    {
      "data": {"name": "p4"},
      "mark": {"type": "line", "strokeWidth": 1.3, "strokeDash": [4, 2]},
      "encoding": {
        "x": {"field": "d", "type": "temporal", "scale": {"type": "utc", "domain": [{"year": 2001, "month": 1, "date": 1, "utc": true}, {"year": 2005, "month": 1, "date": 1, "utc": true}]}, "axis": null},
        "y": {"field": "cpi", "type": "quantitative", "scale": {"domain": [1, 5], "range": [859, 715.7], "zero": false, "nice": false},
          "axis": {"orient": "left", "values": [1, 2, 3, 4, 5], "labelExpr": "datum.value + '%'", "domain": false, "ticks": false, "labelPadding": 10,
            "title": ["利", "率", "和", "通", "胀"], "titleAngle": 0, "titleX": -51, "titleY": 750, "titleAlign": "center", "titleBaseline": "middle",
            "titleFont": "Noto Sans CJK SC", "titleFontSize": 12.5, "titleFontWeight": "bold", "titleLineHeight": 14.2, "titleColor": "#000"}},
        "color": {"datum": "美国:核心CPI", "type": "nominal", "scale": {"range": ["#6f8fbd"]},
          "legend": {"orient": "none", "legendX": -8, "legendY": 668.5, "title": null, "symbolType": "stroke", "symbolDash": [4, 2], "symbolStrokeWidth": 1.3}}
      }
    },
    {
      "data": {"name": "p4"},
      "mark": {"type": "line", "strokeWidth": 1.8},
      "encoding": {
        "x": {"field": "d", "type": "temporal", "scale": {"type": "utc", "domain": [{"year": 2001, "month": 1, "date": 1, "utc": true}, {"year": 2005, "month": 1, "date": 1, "utc": true}]}, "axis": null},
        "y": {"field": "us", "type": "quantitative", "scale": {"domain": [1, 5], "range": [859, 715.7], "zero": false, "nice": false}, "axis": null},
        "color": {"datum": "美国：10年期国债收益率", "type": "nominal", "scale": {"range": ["#8db4e2"]},
          "legend": {"orient": "none", "legendX": 320, "legendY": 668.5, "title": null, "symbolType": "stroke"}}
      }
    },
    {
      "data": {"name": "p4"},
      "mark": {"type": "line", "strokeWidth": 2, "point": {"shape": "square", "size": 34, "filled": true}},
      "encoding": {
        "x": {"field": "d", "type": "temporal", "scale": {"type": "utc", "domain": [{"year": 2001, "month": 1, "date": 1, "utc": true}, {"year": 2005, "month": 1, "date": 1, "utc": true}]}, "axis": null},
        "y": {"field": "cn", "type": "quantitative", "scale": {"domain": [1, 5], "range": [859, 715.7], "zero": false, "nice": false}, "axis": null},
        "color": {"datum": "中国：10年期国债收益率", "type": "nominal", "scale": {"range": ["#4863ab"]},
          "legend": {"orient": "none", "legendX": 125, "legendY": 668.5, "title": null, "symbolStrokeWidth": 2,
            "symbolType": "M-1,0H1M-0.18,-0.13H0.18M-0.18,-0.045H0.18M-0.18,0.045H0.18M-0.18,0.13H0.18"}}
      }
    },
    {
      "data": {"values": [{}]},
      "mark": {"type": "text", "align": "center", "baseline": "top", "lineBreak": "\n", "fontSize": 13, "lineHeight": 16.5, "font": "Noto Sans CJK SC", "color": "#1a1a1a"},
      "encoding": {
        "x": {"datum": {"year": 2004, "month": 3, "date": 6, "utc": true}, "type": "temporal", "scale": {"type": "utc", "domain": [{"year": 2001, "month": 1, "date": 1, "utc": true}, {"year": 2005, "month": 1, "date": 1, "utc": true}]}, "axis": null},
        "y": {"datum": 2.78, "type": "quantitative", "scale": {"domain": [1, 5], "range": [859, 715.7], "zero": false, "nice": false}, "axis": null},
        "text": {"value": "疫情期间通胀受到制约，中美利\n率处于下行状态。"}
      }
    }
  ],
  "resolve": {
    "scale": {"x": "independent", "y": "independent", "color": "independent"},
    "axis": {"x": "independent", "y": "independent"},
    "legend": {"color": "independent"}
  }
}
